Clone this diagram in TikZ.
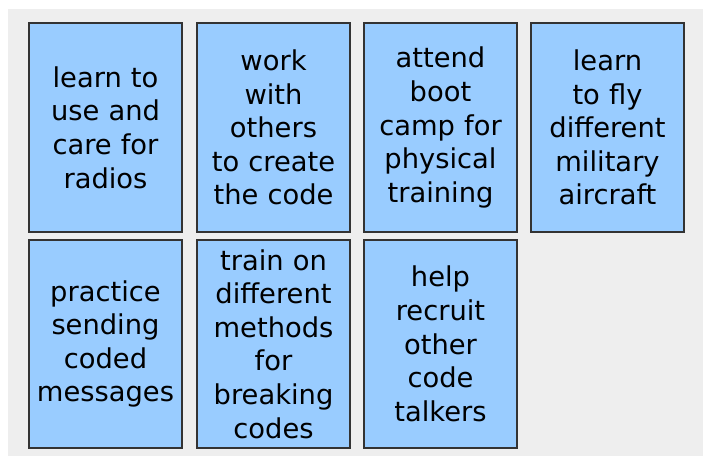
\documentclass[tikz,border=0pt]{standalone}
\usepackage{fontspec}
\setmainfont{DejaVu Sans}
\usepackage{tikz}

\definecolor{cardblue}{HTML}{99CCFF}
\definecolor{cardgray}{HTML}{EEEEEE}
\definecolor{cardline}{HTML}{333333}

\tikzset{
  card/.style={draw=cardline, fill=cardblue, line width=1.4pt, inner sep=0pt,
    minimum width=114.75pt, minimum height=156.5pt, text width=112pt, align=center,
    font=\fontsize{20.5}{25.2}\selectfont}
}

\begin{document}
\begin{tikzpicture}[x=0.75pt,y=0.75pt,yscale=-1,xscale=1]
\useasboundingbox (0,0) rectangle (703,456);

%Background
\fill [cardgray] (8,9) rectangle (703,456);

% Top row
\node [card] (radios) at (105.5,127.5) {learn to\\use and\\care for\\radios};
\node [card] (code) at (273.5,127.5) {work\\with\\others\\to create\\the code};
\node [card] (boot) at (440.5,127.5) {attend\\boot\\camp for\\physical\\training};
\node [card] (fly) at (607.5,127.5) {learn\\to fly\\different\\military\\aircraft};

% Bottom row
\node [card] (send) at (105.5,344) {practice\\sending\\coded\\messages};
\node [card] (breaking) at (273.5,344) {train on\\different\\methods\\for\\breaking\\codes};
\node [card] (recruit) at (440.5,344) {help\\recruit\\other\\code\\talkers};

\end{tikzpicture}
\end{document}
